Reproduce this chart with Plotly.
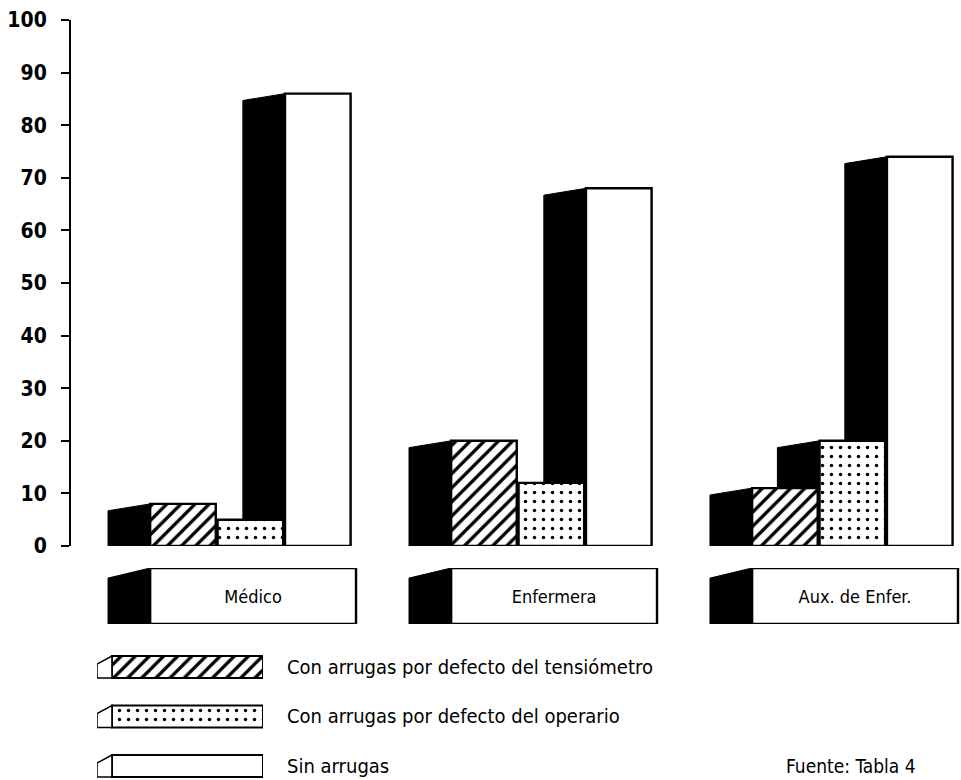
import plotly.graph_objects as go

# ---------------- data ----------------
categories = ["Médico", "Enfermera", "Aux. de Enfer."]
series_names = [
    "Con arrugas por defecto del tensiómetro",
    "Con arrugas por defecto del operario",
    "Sin arrugas",
]
tensiometro = [8, 20, 11]
operario = [5, 12, 20]
sin_arrugas = [86, 68, 74]
y_ticks = [0, 10, 20, 30, 40, 50, 60, 70, 80, 90, 100]
source_text = "Fuente: Tabla 4"

series_values = [tensiometro, operario, sin_arrugas]

# ---------------- styling / layout parameters ----------------
W, H = 961, 780
FONT = "DejaVu Sans Condensed, sans-serif"
group_pos = list(range(len(categories)))
bar_offsets = [-0.332, -0.108, 0.116]
bar_width = 0.218
depth = 0.14          # width of the black side face (x units)
slant = 1.3           # drop of the side face top edge (y units)
patterns = [
    dict(shape="/", size=10, solidity=0.33, fgcolor="black", bgcolor="white",
         fgopacity=1),
    dict(shape=".", size=9, solidity=0.12, fgcolor="black", bgcolor="white",
         fgopacity=1),
    dict(shape="", fgcolor="black", bgcolor="white"),
]

def py(p):  # pixel row -> paper fraction
    return (H - p) / H

fig = go.Figure()

# ---- main bars (front faces) ----
for j, vals in enumerate(series_values):
    fig.add_trace(go.Bar(
        x=group_pos, y=vals, base=0, offset=bar_offsets[j], width=bar_width,
        marker=dict(color="white", line=dict(color="black", width=2.4),
                    pattern=patterns[j]),
        name=series_names[j], showlegend=False, hoverinfo="skip",
        xaxis="x", yaxis="y",
    ))

# ---- black side faces (only the part not hidden by the bar in front) ----
for i, c in enumerate(group_pos):
    for j, vals in enumerate(series_values):
        v = vals[i]
        prev = series_values[j - 1][i] if j > 0 else 0
        if v <= prev:
            continue
        xl = c + bar_offsets[j]
        xs = [xl - depth, xl - depth, xl, xl, xl - depth]
        ys = [prev, max(v - slant, prev), v, prev, prev]
        fig.add_trace(go.Scatter(
            x=xs, y=ys, mode="lines", fill="toself", fillcolor="black",
            line=dict(color="black", width=1), hoverinfo="skip",
            showlegend=False, xaxis="x", yaxis="y",
        ))

# ---- category boxes (3D label boxes under each group) ----
box_left = bar_offsets[0]
box_right = 0.352
fig.add_trace(go.Bar(
    x=group_pos, y=[1] * len(categories), base=0, offset=box_left,
    width=box_right - box_left, text=categories, textposition="inside",
    insidetextanchor="middle", textangle=0,
    textfont=dict(family=FONT, size=18, color="black"),
    marker=dict(color="white", line=dict(color="black", width=2.4)),
    showlegend=False, hoverinfo="skip", xaxis="x", yaxis="y3",
))
for c in group_pos:
    xl = c + box_left
    fig.add_trace(go.Scatter(
        x=[xl - depth, xl - depth, xl, xl, xl - depth],
        y=[0, 0.82, 1, 0, 0], mode="lines", fill="toself",
        fillcolor="black", line=dict(color="black", width=1),
        hoverinfo="skip", showlegend=False, xaxis="x", yaxis="y3",
    ))

# ---- custom legend swatches ----
rows = list(range(len(series_names)))
sw_h = 0.44
sw_start = 0.09
for j in rows:
    fig.add_trace(go.Bar(
        y=[j], x=[1 - sw_start], base=sw_start, orientation="h", width=sw_h,
        marker=dict(color="white", line=dict(color="black", width=2),
                    pattern=patterns[j]),
        showlegend=False, hoverinfo="skip", xaxis="x2", yaxis="y2",
    ))
    top = j - sw_h / 2
    bot = j + sw_h / 2
    fig.add_trace(go.Scatter(
        x=[0, 0, sw_start, sw_start, 0],
        y=[bot, top + 0.16, top, bot, bot], mode="lines", fill="toself",
        fillcolor="white", line=dict(color="black", width=1.5),
        hoverinfo="skip", showlegend=False, xaxis="x2", yaxis="y2",
    ))

annotations = []
for j in rows:
    annotations.append(dict(
        x=285 / W, xref="paper", y=j, yref="y2", text=series_names[j],
        showarrow=False, xanchor="left", yanchor="middle",
        font=dict(family=FONT, size=20, color="black"),
    ))
annotations.append(dict(
    x=784 / W, xref="paper", y=py(766), yref="paper", text=source_text,
    showarrow=False, xanchor="left", yanchor="middle",
    font=dict(family=FONT, size=19, color="black"),
))

fig.update_layout(
    width=W, height=H,
    margin=dict(l=0, r=0, t=0, b=0, autoexpand=False),
    paper_bgcolor="white", plot_bgcolor="white",
    barmode="overlay",
    font=dict(family=FONT, color="black"),
    xaxis=dict(domain=[71 / W, 1], range=[-0.595, 2.362], visible=False,
               fixedrange=True, automargin=False),
    yaxis=dict(domain=[py(546), py(20)], range=[0, 100], tickvals=y_ticks,
               showline=True, linecolor="black", linewidth=2,
               ticks="outside", ticklen=8, tickwidth=2, tickcolor="black",
               showgrid=False, zeroline=False, ticklabelstandoff=10,
               tickfont=dict(family=FONT, size=21, color="black",
                             weight="bold"),
               anchor="x", fixedrange=True, automargin=False),
    yaxis3=dict(domain=[py(624), py(568)], range=[0, 1], visible=False,
                anchor="x", fixedrange=True, automargin=False),
    xaxis2=dict(domain=[97 / W, 263 / W], range=[0, 1], visible=False,
                anchor="y2", fixedrange=True, automargin=False),
    yaxis2=dict(domain=[0, py(652)], range=[2.283, -0.303], visible=False,
                anchor="x2", fixedrange=True, automargin=False),
    annotations=annotations,
)

fig.write_html(
    "out.html",
    config={"displayModeBar": False},
    post_script="document.body.style.margin='0';document.body.style.overflow='hidden';",
)
